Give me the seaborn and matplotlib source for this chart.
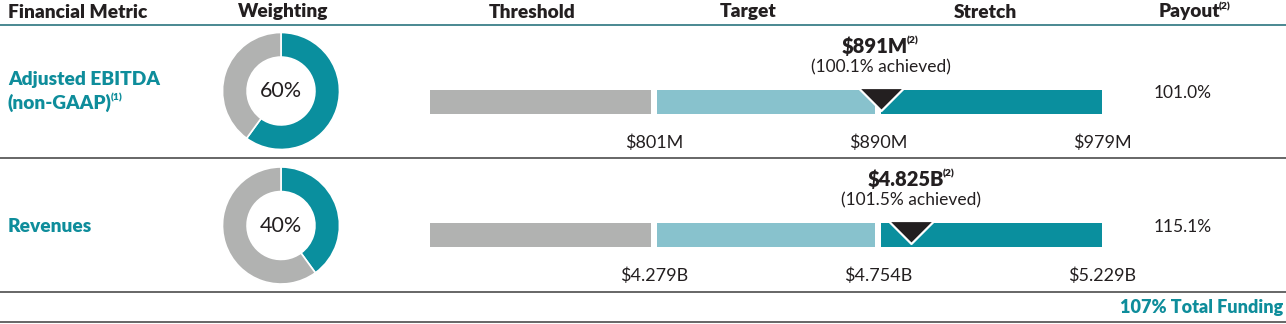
import numpy as np
import pandas as pd
import matplotlib
matplotlib.use("Agg")
import matplotlib.pyplot as plt
import seaborn as sns

# ---------------- data ----------------
metric_lines = [["Adjusted EBITDA", "(non-GAAP)"], ["Revenues"]]
metric_notes = ["(1)", ""]
weights = [60, 40]
thresholds = [801, 4.279]
targets = [890, 4.754]
stretches = [979, 5.229]
actuals = [891, 4.825]
threshold_labels = ["$801M", "$4.279B"]
target_labels = ["$890M", "$4.754B"]
stretch_labels = ["$979M", "$5.229B"]
actual_labels = ["$891M", "$4.825B"]
achieved_pct = [100.1, 101.5]
payouts = [101.0, 115.1]
total_funding = 107
headers = ["Financial Metric", "Weighting", "Threshold", "Target", "Stretch", "Payout"]

# ---------------- style ----------------
sns.set_theme(style="white")
plt.rcParams["font.family"] = ["Lato", "DejaVu Sans"]
TEAL = "#0a8f9e"
LIGHT = "#88c2cd"
GRAY = "#b1b2b1"
INK = "#231f20"
LABEL_TEAL = "#0e8d9b"
HEAD_LINE = "#3b7f89"
ROW_LINE = "#5a5a5a"
HEAVY = "heavy"
THIN = "normal"

W, H, DPI = 1286, 324, 100
fig = plt.figure(figsize=(W / DPI, H / DPI), dpi=DPI)
PT = 72 / DPI  # points per pixel


def px_axes(x0, y0, x1, y1):
    return fig.add_axes([x0 / W, 1 - y1 / H, (x1 - x0) / W, (y1 - y0) / H])


bg = px_axes(0, 0, W, H)
bg.set_xlim(0, W)
bg.set_ylim(H, 0)
bg.axis("off")


def sup_text(ax, x, y, main, sup, size, sup_size, color, weight, ha="center",
             sup_shift=0):
    t = ax.annotate(main, xy=(x, y), xycoords="data",
                    xytext=(-sup_shift * PT if ha == "center" else 0, 0),
                    textcoords="offset points", ha=ha, va="center",
                    fontsize=size, color=color, fontweight=weight)
    if sup:
        ax.annotate(sup, xy=(1, 1), xycoords=t, xytext=(-0.5, 0.5),
                    textcoords="offset points", ha="left", va="top",
                    fontsize=sup_size, color=color, fontweight=HEAVY)
    return t


# header
head_x = [8, 283, 532, 748, 985, 1195]
for i, (hx, h) in enumerate(zip(head_x, headers)):
    ha = "left" if i == 0 else "center"
    sup_text(bg, hx, 12, h, "(2)" if h == "Payout" else "", 13.8, 7.5, INK,
             HEAVY, ha=ha, sup_shift=6 if h == "Payout" else 0)

bg.axhline(24.5, color=HEAD_LINE, lw=1.3)
for yl in [157.5, 292, 321.5]:
    bg.axhline(yl, color=ROW_LINE, lw=1.3)

row_center = [91, 225.5]
bar_tops = [90, 223]
label_y = [[80, 103], [227]]
payout_y = [93, 227]

for i in range(2):
    # metric label
    for j, line in enumerate(metric_lines[i]):
        last = j == len(metric_lines[i]) - 1
        sup_text(bg, 8, label_y[i][j], line, metric_notes[i] if last else "",
                 13.8, 7.5, LABEL_TEAL, HEAVY, ha="left")

    # donut
    cx, cy, r = 281, row_center[i], 58.5
    dax = px_axes(cx - r, cy - r, cx + r, cy + r)
    dax.pie([weights[i], 100 - weights[i]], colors=[TEAL, GRAY], startangle=90,
            counterclock=False, radius=1,
            wedgeprops=dict(width=0.42, edgecolor="white", linewidth=1.2))
    dax.set_xlim(-1, 1)
    dax.set_ylim(-1, 1)
    dax.set_aspect("equal")
    dax.axis("off")
    dax.text(0, 0, f"{weights[i]}%", ha="center", va="center", fontsize=15.5,
             color=INK, fontweight=THIN)

    # segmented bar
    step = targets[i] - thresholds[i]
    seg = pd.DataFrame({
        "metric": ["m", "m", "m"],
        "value": [stretches[i], targets[i], thresholds[i]],
        "segment": ["Stretch", "Target", "Threshold"],
    })
    bt = bar_tops[i]
    ax = px_axes(430, bt, 1102, bt + 24)
    sns.barplot(data=seg, x="value", y="metric", hue="segment", orient="h",
                palette={"Stretch": TEAL, "Target": LIGHT, "Threshold": GRAY},
                dodge=False, saturation=1, width=1, errorbar=None,
                linewidth=0, legend=False, ax=ax)
    ax.set_xlim(thresholds[i] - step, stretches[i])
    ax.set_ylim(0.5, -0.5)
    for v in [thresholds[i], targets[i]]:
        ax.axvline(v, color="white", lw=6 * PT, zorder=4)
    tri = [(-1, 0.5), (1, 0.5), (0, -0.5), (-1, 0.5)]
    ax.scatter([actuals[i]], [-0.12], marker=tri, s=(46 * PT) ** 2, c=INK,
               edgecolors="white", linewidths=1.6, zorder=6, clip_on=False)
    ax.set_xticks([thresholds[i], targets[i], stretches[i]],
                  [threshold_labels[i], target_labels[i], stretch_labels[i]])
    ax.tick_params(axis="x", length=0, pad=15, labelsize=13, labelcolor=INK)
    for tl in ax.get_xticklabels():
        tl.set_fontweight(THIN)
    ax.set_yticks([])
    ax.set_xlabel("")
    ax.set_ylabel("")
    sns.despine(ax=ax, left=True, bottom=True)

    # value above marker
    t = ax.annotate(actual_labels[i], xy=(actuals[i], -0.5),
                    xytext=(-6 * PT, 44 * PT), textcoords="offset points",
                    ha="center", va="center", fontsize=14.5, color=INK,
                    fontweight=HEAVY)
    ax.annotate("(2)", xy=(1, 1), xycoords=t, xytext=(-0.5, 0),
                textcoords="offset points", ha="left", va="top",
                fontsize=7.5, color=INK, fontweight=HEAVY)
    ax.annotate(f"({achieved_pct[i]:.1f}% achieved)", xy=(actuals[i], -0.5),
                xytext=(0, 22.5 * PT), textcoords="offset points", ha="center",
                va="center", fontsize=12.5, color=INK, fontweight=THIN)

    # payout
    bg.text(1183, payout_y[i], f"{payouts[i]:.1f}%", ha="center", va="center",
            fontsize=12.5, color=INK, fontweight=THIN)

bg.text(1283, 307, f"{total_funding}% Total Funding", ha="right", va="center",
        fontsize=13, color=LABEL_TEAL, fontweight=HEAVY)

fig.savefig("out.png", dpi=DPI)
